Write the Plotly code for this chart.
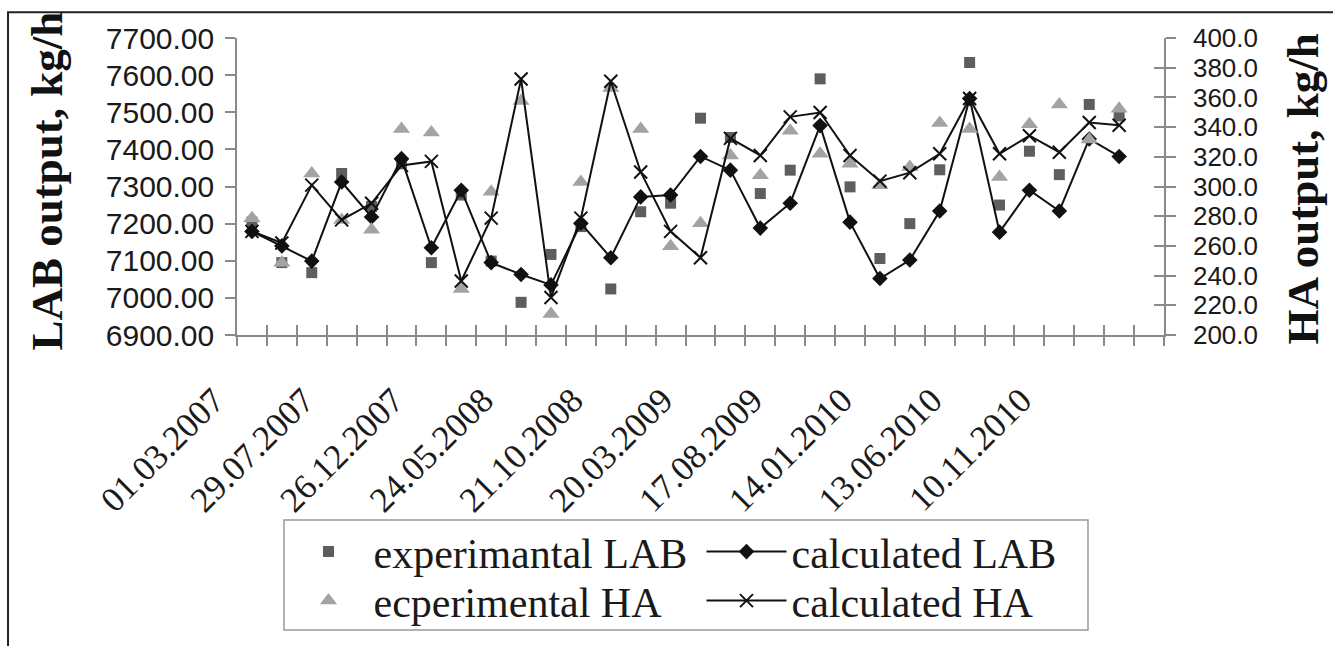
import plotly.graph_objects as go

# ---- data ----
tick_labels = ["01.03.2007", "29.07.2007", "26.12.2007", "24.05.2008", "21.10.2008",
               "20.03.2009", "17.08.2009", "14.01.2010", "13.06.2010", "10.11.2010"]
idx = list(range(30))

exp_lab = [7204, 7095, 7068, 7335, 7246, 7361, 7095, 7277, 7099, 6988,
           7117, 7192, 7024, 7232, 7255, 7484, 7432, 7281, 7344, 7590,
           7299, 7106, 7200, 7345, 7634, 7250, 7395, 7332, 7521, 7490]
calc_lab = [7179, 7140, 7099, 7312, 7218, 7375, 7135, 7290, 7095, 7063,
            7035, 7201, 7108, 7272, 7277, 7381, 7344, 7188, 7255, 7464,
            7204, 7052, 7102, 7234, 7537, 7177, 7290, 7234, 7428, 7381]
exp_ha = [278.7, 248.7, 308.7, 277.5, 270.9, 338.7, 336.4, 230.9, 296.4, 357.5,
          214.2, 303.1, 366.4, 338.7, 259.8, 275.3, 320.9, 307.5, 337.5, 322.0,
          315.3, 300.9, 313.1, 342.7, 338.7, 306.4, 342.0, 355.3, 331.6, 352.4]
calc_ha = [269.8, 262.0, 300.9, 277.5, 288.7, 314.2, 316.9, 236.4, 278.7, 372.4,
           225.3, 278.7, 370.9, 309.8, 269.8, 252.0, 332.4, 320.9, 346.9, 349.8,
           320.9, 303.6, 309.3, 322.0, 359.3, 322.0, 334.2, 323.1, 343.1, 341.3]

n_cat = 31
lab_ticks = [6900 + 100 * k for k in range(9)]
ha_ticks = [200 + 20 * k for k in range(11)]
boundaries = [k - 0.5 for k in range(n_cat + 1)]
label_pos = [3 * k for k in range(len(tick_labels))]

AX = "#8a8a8a"
TXT = "#1a1a1a"

fig = go.Figure()
fig.add_trace(go.Scatter(x=idx, y=exp_lab, mode="markers", name="experimantal LAB",
                         marker=dict(symbol="square", size=11, color="#5e5e5e"),
                         legend="legend"))
fig.add_trace(go.Scatter(x=idx, y=exp_ha, mode="markers", name="ecperimental HA",
                         marker=dict(symbol="triangle-up", size=15, color="#a3a3a3"),
                         yaxis="y2", legend="legend2"))
fig.add_trace(go.Scatter(x=idx, y=calc_lab, mode="lines+markers", name="calculated LAB",
                         line=dict(color="#111111", width=2),
                         marker=dict(symbol="diamond", size=12, color="#111111"),
                         legend="legend"))
fig.add_trace(go.Scatter(x=idx, y=calc_ha, mode="lines+markers", name="calculated HA",
                         line=dict(color="#111111", width=2),
                         marker=dict(symbol="x-thin", size=13, color="#111111",
                                     line=dict(width=2, color="#111111")),
                         yaxis="y2", legend="legend2"))
# helper traces so the crossing-tick overlay axes are drawn
fig.add_trace(go.Scatter(x=[None], y=[None], xaxis="x2", yaxis="y", showlegend=False, hoverinfo="skip"))
fig.add_trace(go.Scatter(x=[None], y=[None], xaxis="x3", yaxis="y", showlegend=False, hoverinfo="skip"))
fig.add_trace(go.Scatter(x=[None], y=[None], xaxis="x", yaxis="y3", showlegend=False, hoverinfo="skip"))

xr = [-0.5, n_cat - 0.5]
leg_font = dict(family="Liberation Serif", size=42, color=TXT)
leg_common = dict(orientation="h", xanchor="left", yanchor="middle", bgcolor="rgba(0,0,0,0)",
                  borderwidth=0, itemwidth=80, entrywidth=323, entrywidthmode="pixels",
                  font=leg_font)
fig.update_layout(
    width=1333, height=646, autosize=False,
    margin=dict(l=237, r=169, t=38, b=308),
    paper_bgcolor="white", plot_bgcolor="white",
    xaxis=dict(range=xr, tickmode="array", tickvals=label_pos, ticktext=tick_labels,
               tickangle=-45, ticks="", showline=True, linecolor=AX, linewidth=1.5,
               showgrid=False, zeroline=False, ticklabelstandoff=29, ticklabelshift=-38,
               automargin=False,
               tickfont=dict(family="Liberation Serif", size=35, color=TXT)),
    xaxis2=dict(overlaying="x", anchor="y", side="bottom", range=xr, tickmode="array",
                tickvals=boundaries, ticks="outside", ticklen=10, tickcolor=AX, tickwidth=1.5,
                showticklabels=False, showline=False, showgrid=False, zeroline=False,
                automargin=False),
    xaxis3=dict(overlaying="x", anchor="y", side="bottom", range=xr, tickmode="array",
                tickvals=boundaries, ticks="inside", ticklen=10, tickcolor=AX, tickwidth=1.5,
                showticklabels=False, showline=False, showgrid=False, zeroline=False,
                automargin=False),
    yaxis=dict(range=[6900, 7700], tickmode="array", tickvals=lab_ticks, tickformat=".2f",
               ticks="outside", ticklen=10, tickcolor=AX, tickwidth=1.5,
               showline=True, linecolor=AX, linewidth=1.5, showgrid=False, zeroline=False,
               ticklabelstandoff=5, automargin=False,
               tickfont=dict(family="Liberation Sans", size=30, color=TXT)),
    yaxis2=dict(overlaying="y", side="right", anchor="x", range=[200, 400], tickmode="array",
                tickvals=ha_ticks, tickformat=".1f", ticks="outside", ticklen=10,
                tickcolor=AX, tickwidth=1.5, showline=True, linecolor=AX, linewidth=1.5,
                showgrid=False, zeroline=False, ticklabelstandoff=12, automargin=False,
                tickfont=dict(family="Liberation Sans", size=26, color=TXT)),
    yaxis3=dict(overlaying="y", side="right", anchor="x", range=[200, 400], tickmode="array",
                tickvals=ha_ticks, ticks="inside", ticklen=10, tickcolor=AX, tickwidth=1.5,
                showticklabels=False, showline=False, showgrid=False, zeroline=False,
                automargin=False),
    legend=dict(x=(283.5 - 237) / 927, y=(338 - 557) / 300, **leg_common),
    legend2=dict(x=(283.5 - 237) / 927, y=(338 - 606.5) / 300, **leg_common),
    shapes=[
        dict(type="rect", xref="paper", yref="paper", x0=-0.247, y0=-1.2, x1=1.25, y1=1.0867,
             line=dict(color="#222222", width=2), fillcolor="rgba(0,0,0,0)", layer="below"),
        dict(type="rect", xref="paper", yref="paper", x0=0.0507, y0=-0.993, x1=0.918, y1=-0.623,
             line=dict(color="#9a9a9a", width=1.5), fillcolor="rgba(0,0,0,0)", layer="below"),
    ],
    annotations=[
        dict(text="<b>LAB output, kg/h</b>", xref="paper", yref="paper", x=-0.205, y=0.52,
             xanchor="center", yanchor="middle", textangle=-90, showarrow=False,
             font=dict(family="Liberation Serif", size=45, color="#111111")),
        dict(text="<b>HA output, kg/h</b>", xref="paper", yref="paper", x=1.15, y=0.49,
             xanchor="center", yanchor="middle", textangle=-90, showarrow=False,
             font=dict(family="Liberation Serif", size=45, color="#111111")),
    ],
    showlegend=True,
)

fig.write_html("out.html")
